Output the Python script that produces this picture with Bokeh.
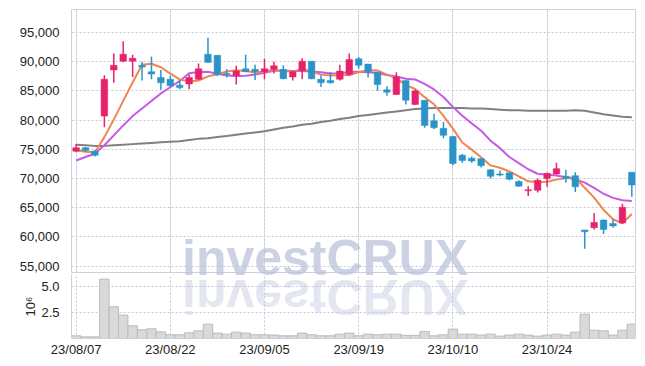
from bokeh.plotting import figure
from bokeh.models import (ColumnDataSource, Range1d, FixedTicker, NumeralTickFormatter,
                          Div, Grid, LinearAxis)
from bokeh.layouts import column
from bokeh.embed import file_html
from bokeh.resources import INLINE

dates = ["23/08/07", "23/08/08", "23/08/09", "23/08/10", "23/08/11", "23/08/14", "23/08/16", "23/08/17", "23/08/18", "23/08/21",
         "23/08/22", "23/08/23", "23/08/24", "23/08/25", "23/08/28", "23/08/29", "23/08/30", "23/08/31", "23/09/01", "23/09/04",
         "23/09/05", "23/09/06", "23/09/07", "23/09/08", "23/09/11", "23/09/12", "23/09/13", "23/09/14", "23/09/15", "23/09/18",
         "23/09/19", "23/09/20", "23/09/21", "23/09/22", "23/09/25", "23/09/26", "23/09/27", "23/10/04", "23/10/05", "23/10/06",
         "23/10/10", "23/10/11", "23/10/12", "23/10/13", "23/10/16", "23/10/17", "23/10/18", "23/10/19", "23/10/20", "23/10/23",
         "23/10/24", "23/10/25", "23/10/26", "23/10/27", "23/10/30", "23/10/31", "23/11/01", "23/11/02", "23/11/03", "23/11/06"]

open_ = [74700, 75300, 74700, 80700, 88600, 90100, 90100, 89400, 88300, 87300,
         87000, 86000, 86200, 87000, 91300, 91100, 88000, 87600, 88800, 88700,
         88300, 88700, 88700, 87400, 88500, 90100, 87000, 86800, 87000, 87800,
         90500, 89600, 88200, 85200, 84400, 86800, 82700, 83400, 79900, 78600,
         77200, 74000, 73500, 73400, 71500, 70800, 71000, 69500, 67900, 68000,
         70000, 70800, 70400, 70500, 61200, 61600, 62900, 62300, 62400, 71100]
close = [75300, 74800, 74000, 87000, 89400, 91300, 90600, 89100, 87900, 86400,
         85900, 85600, 87300, 88800, 89900, 87800, 87800, 88400, 88300, 88300,
         88800, 89300, 87100, 88300, 90100, 87100, 86400, 86400, 88400, 90400,
         89400, 88300, 86100, 84800, 87400, 83400, 85000, 79100, 78700, 77400,
         72600, 73100, 73000, 72200, 70400, 70600, 69900, 68700, 68100, 69700,
         70900, 71700, 70000, 68600, 60900, 62500, 61300, 61900, 65100, 68900]
high = [75900, 75400, 74900, 87700, 91400, 93500, 91200, 90000, 90900, 88600,
        87600, 86800, 87800, 89700, 94100, 91100, 88700, 89300, 91200, 89500,
        90500, 90000, 89400, 88400, 90600, 90100, 87700, 88200, 89500, 91400,
        90800, 89600, 88300, 85800, 88200, 86800, 85200, 83400, 81100, 79700,
        77300, 74200, 73800, 73500, 71600, 71400, 71000, 69700, 68700, 70000,
        71000, 72700, 71500, 71100, 61200, 64100, 63000, 63000, 65700, 71100]
low = [74500, 74600, 73800, 78800, 86400, 89900, 87400, 86800, 87000, 85200,
       85600, 85300, 85300, 86900, 89800, 87500, 87300, 86100, 88200, 86900,
       87000, 88000, 87000, 86800, 87000, 87000, 85700, 86300, 86800, 87600,
       88800, 87300, 85000, 84200, 84300, 82700, 82600, 78700, 78500, 76900,
       72300, 72700, 72700, 71900, 70000, 70400, 69700, 68600, 67000, 67600,
       68600, 70700, 69300, 67700, 58000, 61300, 60500, 61600, 62300, 66900]

ma5 = [74900, 74600, 74500, 77100, 80100, 83300, 86460, 89480, 89660, 89060,
       87980, 86980, 86620, 86800, 87500, 87880, 88320, 88540, 88440, 88120,
       88320, 88620, 88360, 88360, 88720, 88380, 87800, 87660, 87680, 87740,
       88200, 88580, 88520, 87800, 87200, 86000, 85340, 83940, 82720, 80720,
       78560, 76180, 74960, 73660, 72260, 71860, 71220, 70360, 69540, 69400,
       69460, 69820, 70080, 70180, 68420, 66740, 64660, 63040, 62340, 63940]
ma10 = [73100, 73700, 74300, 75700, 77400, 79100, 80700, 82000, 83300, 84580,
        85640, 86720, 88050, 88230, 88280, 87930, 87650, 87580, 87620, 87810,
        88100, 88470, 88450, 88400, 88420, 88350, 88210, 88010, 88020, 88230,
        88290, 88190, 88090, 87740, 87470, 87100, 86960, 86230, 85260, 83960,
        82280, 80760, 79450, 78190, 76490, 75210, 73700, 72660, 71600, 70830,
        70660, 70520, 70220, 69860, 69300, 68400, 67400, 66700, 66300, 66180]
ma_long = [75800, 75700, 75600, 75600, 75700, 75800, 75900, 76000, 76100, 76200,
           76300, 76400, 76600, 76800, 76900, 77100, 77300, 77500, 77700, 77900,
           78100, 78400, 78700, 78900, 79200, 79400, 79700, 79900, 80200, 80400,
           80700, 80900, 81100, 81300, 81500, 81700, 81900, 82000, 82100, 82100,
           82100, 82100, 82000, 82000, 81900, 81800, 81700, 81700, 81600, 81600,
           81600, 81600, 81600, 81700, 81600, 81300, 81000, 80800, 80600, 80500]

volume_m = [0.26, 0.16, 0.16, 5.71, 3.05, 2.25, 1.22, 0.84, 0.93, 0.64,
            0.36, 0.36, 0.55, 0.74, 1.38, 0.52, 0.42, 0.61, 0.52, 0.36,
            0.36, 0.33, 0.26, 0.26, 0.52, 0.36, 0.26, 0.26, 0.42, 0.52,
            0.26, 0.42, 0.36, 0.42, 0.42, 0.30, 0.30, 0.68, 0.26, 0.36,
            0.90, 0.42, 0.42, 0.33, 0.42, 0.23, 0.33, 0.42, 0.33, 0.23,
            0.33, 0.42, 0.33, 0.61, 2.34, 0.80, 0.74, 0.33, 0.80, 1.38]

price_ticks = [55000, 60000, 65000, 70000, 75000, 80000, 85000, 90000, 95000]
volume_ticks = [2.5, 5.0]
date_tick_idx = [0, 10, 20, 30, 40, 50]
watermark = "investCRUX"

UP = "#e8226a"
DOWN = "#2a94c8"
GRID = "#c3c7da"
FRAME = "#cfd0d8"
FONT = "Liberation Sans"
LABEL_COLOR = "#222222"

idx = list(range(len(dates)))
colors = [UP if c >= o else DOWN for o, c in zip(open_, close)]
src = ColumnDataSource(dict(
    x=idx, o=open_, c=close, h=high, l=low,
    top=[max(o, c) for o, c in zip(open_, close)],
    bot=[min(o, c) for o, c in zip(open_, close)],
    color=colors, ma5=ma5, ma10=ma10, mal=ma_long, vol=volume_m,
))

x_range = Range1d(-0.49, 59.39)

# ---------- price panel ----------
p = figure(width=645, height=274, x_range=x_range, y_range=Range1d(53920, 98950),
           x_axis_location=None, output_backend="svg", toolbar_location=None,
           min_border_left=71, min_border_right=10, min_border_top=9, min_border_bottom=2)
p.background_fill_color = "white"
p.border_fill_color = "white"
p.outline_line_color = FRAME
p.yaxis.ticker = FixedTicker(ticks=price_ticks)
p.yaxis.formatter = NumeralTickFormatter(format="0,0")
p.yaxis.axis_line_color = None
p.yaxis.major_tick_line_color = None
p.yaxis.minor_tick_line_color = None
p.yaxis.major_label_text_font = FONT
p.yaxis.major_label_text_font_size = "13px"
p.yaxis.major_label_text_color = LABEL_COLOR
p.yaxis.major_label_standoff = 6
p.ygrid.grid_line_color = GRID
p.ygrid.grid_line_dash = "2 2"
p.add_layout(Grid(dimension=0, ticker=FixedTicker(ticks=date_tick_idx),
                  grid_line_color=GRID, grid_line_dash="2 2"))

p.line("x", "mal", source=src, line_color="#808080", line_width=2)
p.line("x", "ma10", source=src, line_color="#c65ae6", line_width=2)
p.line("x", "ma5", source=src, line_color="#ef8550", line_width=2)
p.segment("x", "h", "x", "l", source=src, line_color="color", line_width=1.5)
p.vbar(x="x", width=0.7, top="top", bottom="bot", source=src,
       fill_color="color", line_color="color", line_width=0.5)

# ---------- volume panel ----------
v = figure(width=645, height=92, x_range=x_range, y_range=Range1d(0, 6.15),
           output_backend="svg", toolbar_location=None,
           min_border_left=71, min_border_right=10, min_border_top=0, min_border_bottom=28)
v.background_fill_color = "white"
v.border_fill_color = "white"
v.outline_line_color = None
v.yaxis.ticker = FixedTicker(ticks=volume_ticks)
v.yaxis.formatter = NumeralTickFormatter(format="0.0")
v.yaxis.axis_line_color = FRAME
v.yaxis.major_tick_line_color = None
v.yaxis.minor_tick_line_color = None
v.yaxis.major_label_text_font = FONT
v.yaxis.major_label_text_font_size = "13px"
v.yaxis.major_label_text_color = LABEL_COLOR
v.yaxis.major_label_standoff = 6
v.yaxis.axis_label = "10⁶"
v.yaxis.axis_label_text_font = FONT
v.yaxis.axis_label_text_font_style = "normal"
v.yaxis.axis_label_text_font_size = "13px"
v.yaxis.axis_label_text_color = LABEL_COLOR
v.yaxis.axis_label_standoff = 0
v.xaxis.ticker = FixedTicker(ticks=date_tick_idx)
v.xaxis.major_label_overrides = {i: dates[i] for i in date_tick_idx}
v.xaxis.axis_line_color = FRAME
v.xaxis.major_tick_line_color = None
v.xaxis.minor_tick_line_color = None
v.xaxis.major_tick_out = 0
v.xaxis.major_label_standoff = 3
v.xaxis.major_label_text_font = FONT
v.xaxis.major_label_text_font_size = "13px"
v.xaxis.major_label_text_color = LABEL_COLOR
right_axis = LinearAxis(ticker=FixedTicker(ticks=[]), axis_line_color=FRAME,
                        major_tick_line_color=None, minor_tick_line_color=None,
                        major_label_text_font_size="0px")
v.add_layout(right_axis, "right")
v.xgrid.grid_line_color = GRID
v.xgrid.grid_line_dash = "2 2"
v.ygrid.grid_line_color = GRID
v.ygrid.grid_line_dash = "2 2"
v.vbar(x="x", width=1.0, top="vol", bottom=0, source=src,
       fill_color="#d9d9d9", line_color="#bcbcbc", line_width=1)

# watermark with a CSS mirror reflection (single real text)
wm_main = Div(text=watermark, styles={
    "position": "absolute", "left": "177px", "top": "235px",
    "font-family": FONT, "font-weight": "bold", "font-size": "50px",
    "line-height": "36px", "height": "36px", "white-space": "nowrap",
    "pointer-events": "none", "color": "rgba(187,195,219,0.75)",
    "-webkit-box-reflect": "below 3px linear-gradient(to bottom, rgba(0,0,0,0.5) 0%, rgba(0,0,0,0.58) 100%)",
})

layout = column(p, v, wm_main)
open("out.html", "w").write(file_html(layout, INLINE))
